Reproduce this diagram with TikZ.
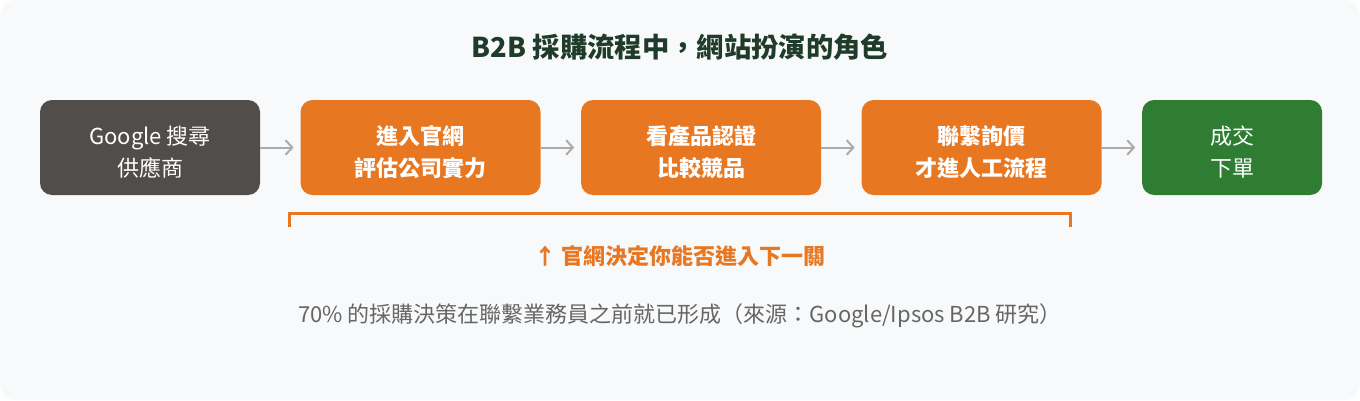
\documentclass[tikz,border=0pt]{standalone}
\usepackage{fontspec}
\setmainfont{Noto Sans CJK TC}
\usepackage{tikz}
\usetikzlibrary{shapes, arrows.meta, positioning}

\definecolor{bgcol}{HTML}{F8F9FA}
\definecolor{searchcol}{HTML}{514D4A}
\definecolor{sitecol}{HTML}{E87722}
\definecolor{dealcol}{HTML}{2E7D32}
\definecolor{titlecol}{HTML}{1F3B2A}
\definecolor{notecol}{HTML}{666666}
\definecolor{arrowcol}{HTML}{ABABAB}

\begin{document}
\begin{tikzpicture}[x=0.75pt, y=-0.75pt, >={Straight Barb[length=5pt,width=11pt]},
node distance=30pt,
step box/.style={
rectangle,
rounded corners=9pt,
minimum height=71.25pt,
minimum width=180pt,
align=center,
text height=45pt,
text=white,
font=\fontsize{16.5pt}{24pt}\selectfont\bfseries,
fill=sitecol
},
search box/.style={
step box,
minimum width=165pt,
font=\fontsize{16.5pt}{24pt}\selectfont,
fill=searchcol
},
deal box/.style={
step box,
minimum width=135pt,
font=\fontsize{16.5pt}{24pt}\selectfont,
fill=dealcol
},
flow/.style={->, draw=arrowcol, line width=1.5pt, shorten >=5pt}
]

% background
\fill[white] (0,0) rectangle (1360,400);
\fill[bgcol, rounded corners=12pt] (0,0) rectangle (1360,400);
\useasboundingbox (0,0) rectangle (1360,400);

\node[font=\fontsize{20.5pt}{24pt}\selectfont\bfseries, text=titlecol] (title) at (680,47) {B2B 採購流程中，網站扮演的角色};

\node[search box] (s1) at (150,147.5) {Google 搜尋\\供應商};
\node[step box] (s2) [right=of s1] {進入官網\\評估公司實力};
\node[step box] (s3) [right=of s2] {看產品認證\\比較競品};
\node[step box] (s4) [right=of s3] {聯繫詢價\\才進人工流程};
\node[deal box] (s5) [right=of s4] {成交\\下單};

\draw[flow] (s1) -- (s2);
\draw[flow] (s2) -- (s3);
\draw[flow] (s3) -- (s4);
\draw[flow] (s4) -- (s5);

% bracket under the site steps
\coordinate (bl) at (289.5,213);
\coordinate (br) at (1070.5,213);
\draw[sitecol, line width=2.25pt] ([yshift=-10.5pt]bl) -- (bl) -- (br) -- ([yshift=-10.5pt]br);

\node[font=\fontsize{16.5pt}{20pt}\selectfont\bfseries, text=sitecol] (gate) at (680,256) {↑ 官網決定你能否進入下一關};
\node[font=\fontsize{16.5pt}{20pt}\selectfont, text=notecol] (note) at (680,316) {70\% 的採購決策在聯繫業務員之前就已形成（來源：Google/Ipsos B2B 研究）};

\end{tikzpicture}
\end{document}
